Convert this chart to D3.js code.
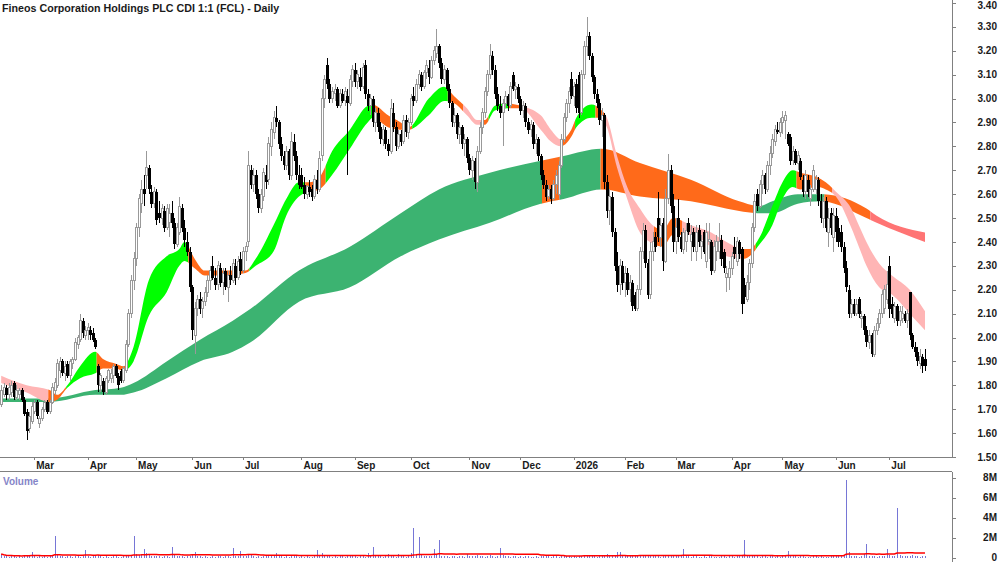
<!DOCTYPE html>
<html>
<head>
<meta charset="utf-8">
<script src="https://cdn.jsdelivr.net/npm/d3@7"></script>
<style>
  body { margin: 0; background: #fff; }
  svg { display: block; font-family: 'Liberation Sans', Arial, sans-serif; }
</style>
</head>
<body>
<svg id="chart" width="1000" height="562"></svg>
<script>
const title = 'Fineos Corporation Holdings PLC CDI 1:1 (FCL) - Daily';

// trading calendar (ASX)
const firstDay = '2025-02-12';
const lastDay = '2026-07-21';
const holidays = ['2025-04-18', '2025-04-21', '2025-04-25', '2025-06-09', '2025-12-25', '2025-12-26',
  '2026-01-01', '2026-01-26', '2026-04-03', '2026-04-06', '2026-06-08'];

// daily candles, cents: [open, high, low, close]
const candles = [
  // Feb 25
  [172,180,171,178],[176,181,175,179],[179,180,174,176],[176,181,174,179],[177,182,175,180],[181,182,174,175],[175,180,174,178],[176,179,174,178],[178,179,173,174],[174,175,167,168],[169,170,157,161],[162,169,160,167],[165,173,164,171],
  // Mar 25
  [169,174,168,173],[173,174,166,167],[164,167,162,166],[166,171,165,170],[170,174,169,173],[173,174,168,169],[169,174,168,173],[173,181,172,179],[178,183,176,181],[180,191,179,189],[186,192,183,190],[190,191,184,185],[185,190,182,188],[189,190,183,184],[184,191,182,190],[189,192,187,191],[191,200,190,198],[197,201,195,200],[199,210,198,207],[207,208,200,202],[201,205,199,203],
  // Apr 25
  [203,206,199,204],[203,205,199,201],[202,204,198,199],[199,200,195,196],[188,189,177,180],[180,185,177,184],[182,183,176,177],[177,184,176,183],[182,187,181,186],[183,187,181,185],[184,189,181,188],[188,189,183,184],[184,185,178,180],[186,187,181,182],[182,188,181,187],[186,199,185,197],[197,212,196,210],[210,226,208,224],[224,236,220,233],
  // May 25
  [233,248,230,246],[246,260,242,258],[256,266,252,262],[262,268,255,260],[268,278,262,271],[271,272,260,262],[261,264,254,256],[256,263,254,261],[261,262,247,249],[252,257,248,250],[250,256,247,254],[253,255,244,246],[246,256,245,254],[248,256,242,252],[252,257,246,248],[248,250,237,239],[239,248,238,246],[244,259,243,255],[254,256,244,246],[246,249,238,241],[240,244,234,236],[236,238,219,221],
  // Jun 25
  [221,222,199,203],[201,215,193,212],[212,218,209,216],[216,219,210,212],[212,217,208,215],[215,221,213,219],[219,226,217,224],[224,230,220,228],[230,234,224,225],[225,229,220,222],[222,232,220,230],[229,231,221,223],[223,229,218,227],[228,229,220,221],[221,228,215,226],[226,230,222,224],[224,233,223,231],[230,233,222,225],[225,234,224,232],[233,236,226,228],
  // Jul 25
  [228,238,227,236],[236,240,232,238],[240,278,238,272],[270,272,262,264],[264,271,261,268],[268,270,258,260],[260,262,252,254],[254,262,252,260],[259,271,257,269],[268,272,262,265],[266,284,264,281],[280,290,276,287],[286,295,283,292],[292,297,288,290],[290,291,279,281],[281,284,274,276],[276,278,270,272],[272,280,270,278],[278,279,266,268],[268,286,266,282],[282,285,274,276],[276,278,266,268],[268,272,262,264],
  // Aug 25
  [268,271,262,263],[264,267,258,260],[260,264,258,263],[263,266,259,261],[262,264,257,259],[259,268,258,266],[266,270,260,262],[262,278,261,275],[276,304,274,300],[300,310,296,308],[314,317,304,306],[306,308,298,300],[300,305,298,303],[302,306,299,304],[304,305,296,297],[297,304,296,302],[302,304,298,299],[299,305,297,303],[301,304,268,298],[298,310,297,308],[307,314,305,312],
  // Sep 25
  [312,315,305,307],[307,312,304,310],[309,313,303,305],[305,315,304,313],[314,316,300,302],[302,304,295,297],[297,302,293,300],[300,301,288,290],[290,296,286,294],[294,296,286,288],[288,290,281,283],[283,289,280,287],[287,288,279,281],[281,283,276,278],[278,300,277,296],[294,298,286,288],[288,290,278,280],[280,287,279,285],[285,287,280,282],[282,293,281,291],[291,293,284,286],[286,292,283,290],
  // Oct 25
  [290,302,289,300],[301,305,297,299],[299,308,298,306],[306,312,304,310],[310,311,303,305],[305,312,304,311],[311,316,308,314],[313,316,306,309],[309,318,308,316],[316,322,314,320],[319,329,317,322],[322,323,313,315],[315,317,306,308],[308,314,306,312],[312,313,303,304],[304,306,296,298],[298,299,288,290],[290,296,288,293],[293,294,283,285],[285,290,281,288],[288,289,279,281],[281,285,276,283],[283,284,273,275],
  // Nov 25
  [275,277,268,270],[270,276,266,274],[274,275,262,265],[265,280,261,278],[278,290,277,288],[288,296,285,294],[294,305,292,303],[303,312,301,310],[310,323,308,318],[318,320,310,312],[312,314,300,302],[302,305,295,297],[297,301,292,294],[294,300,280,298],[298,303,296,301],[301,302,295,297],[297,307,296,305],[310,311,303,304],[304,307,300,305],[305,306,298,300],
  // Dec 25
  [300,301,293,295],[295,299,292,297],[297,298,288,290],[290,292,285,287],[287,291,284,289],[289,290,279,281],[281,285,277,283],[283,284,274,276],[276,277,266,268],[268,270,262,264],[264,266,257,259],[259,264,258,262],[262,264,256,258],[258,266,257,264],[264,270,260,268],[260,274,258,272],[272,285,271,283],[283,294,282,292],[292,300,290,298],[298,305,294,303],[308,311,300,301],
  // Jan 26
  [301,307,297,305],[306,308,294,296],[310,311,292,294],[294,312,293,310],[310,324,308,322],[322,334,318,326],[326,328,316,318],[318,319,307,309],[309,310,300,302],[302,304,296,298],[298,300,289,291],[291,296,284,293],[293,294,262,265],[265,268,250,253],[253,262,247,259],[259,261,242,244],[244,246,228,230],[230,236,219,222],[222,233,218,230],[230,232,220,223],
  // Feb 26
  [223,230,217,227],[227,229,218,220],[220,226,215,223],[223,224,211,213],[218,219,211,212],[212,222,211,220],[220,238,218,236],[236,248,233,245],[245,247,229,231],[231,233,216,218],[218,240,216,236],[236,244,232,240],[242,244,236,238],[250,261,240,242],[242,250,238,247],[248,250,228,232],[232,262,231,258],[258,277,256,270],[270,272,252,255],[255,260,236,240],
  // Mar 26
  [240,250,235,246],[250,258,240,242],[242,244,236,237],[237,246,235,244],[240,248,236,245],[248,250,243,244],[240,247,232,243],[244,246,236,238],[236,247,232,244],[245,247,238,240],[238,243,233,240],[244,245,235,236],[232,248,229,244],[240,248,233,241],[240,241,226,228],[228,241,227,238],[236,243,232,240],[236,248,233,240],[241,243,230,233],[236,237,227,229],[225,230,219,227],[225,232,220,229],
  // Apr 26
  [229,236,226,234],[238,242,233,235],[232,242,230,240],[240,241,233,235],[237,238,210,214],[222,225,214,217],[216,226,215,223],[223,233,220,231],[231,248,229,246],[246,260,244,257],[260,262,253,255],[255,266,254,264],[264,270,260,268],[268,269,260,262],[262,274,261,272],[272,280,268,277],[277,285,275,283],[282,289,280,287],[287,290,285,286],[286,292,284,290],
  // May 26
  [290,295,285,292],[291,295,283,293],[285,286,280,281],[284,285,272,274],[274,280,272,278],[278,279,272,273],[273,278,270,276],[274,275,266,267],[266,268,259,261],[261,270,258,268],[266,268,259,261],[258,264,255,262],[262,272,261,270],[262,268,260,266],[266,267,255,257],[257,260,248,250],[250,259,246,257],[257,259,244,246],[244,254,238,250],[252,254,243,246],[242,254,236,251],
  // Jun 26
  [251,254,240,244],[246,250,238,240],[244,247,236,238],[238,240,227,229],[229,232,219,221],[220,222,208,210],[210,216,208,214],[214,216,209,210],[210,216,209,214],[216,217,208,210],[208,211,204,209],[209,210,201,203],[203,205,196,198],[198,203,195,201],[201,202,192,193],[193,205,192,203],[203,208,201,206],[206,212,204,210],[210,220,208,218],[212,222,210,220],[216,228,214,222],
  // Jul 26
  [230,234,208,212],[214,217,208,210],[208,215,206,213],[213,214,205,207],[207,213,205,211],[208,213,206,210],[210,211,206,207],[207,212,204,210],[219,219,199,201],[201,202,195,196],[196,198,192,194],[194,196,188,190],[189,195,187,192],[192,193,185,188],[191,195,186,188]
];

// daily volume, millions
const volumes = [
  0.35,0.2,0.15,0.1,0.2,0.12,0.08,0.15,0.1,0.2,0.25,0.15,0.6,
  0.15,0.1,0.12,0.08,0.2,0.1,0.15,0.12,2.2,0.3,0.2,0.15,0.1,0.12,0.2,0.1,0.15,0.12,0.1,0.2,0.8,
  0.12,0.1,0.15,0.2,0.3,0.15,0.1,0.12,0.08,0.1,0.15,0.12,0.1,0.08,0.12,0.2,0.25,0.3,2.2,
  0.4,0.3,0.25,0.9,0.5,0.3,0.2,0.15,0.2,0.12,0.1,0.15,0.12,0.1,1.1,0.3,0.15,0.2,0.12,0.1,0.15,0.2,
  0.3,0.6,0.2,0.15,0.1,0.12,0.1,0.08,0.15,0.1,0.12,0.2,0.1,0.15,0.12,0.1,1.0,0.2,0.15,0.7,
  0.15,0.2,0.35,0.25,0.15,0.1,0.12,0.1,0.15,0.12,0.2,0.25,0.2,0.5,0.2,0.15,0.1,0.12,0.1,0.15,0.2,0.12,0.1,
  0.12,0.1,0.15,0.08,0.1,0.12,0.8,0.2,0.5,0.3,0.2,0.15,0.1,0.12,0.1,0.15,0.12,0.1,0.2,0.15,0.12,
  0.15,0.1,0.12,0.15,0.1,0.5,0.2,1.1,0.2,0.15,0.12,0.1,0.15,0.4,0.15,0.12,0.1,0.4,0.12,0.15,0.1,0.2,
  0.5,3.0,0.3,2.1,0.3,0.2,0.15,0.2,0.12,0.9,0.3,1.8,0.2,0.15,0.12,0.1,0.15,0.12,0.1,0.15,0.12,0.1,0.4,
  0.15,0.12,0.2,0.25,0.15,0.12,0.1,0.15,0.3,0.12,0.1,0.15,1.0,0.3,0.15,0.12,0.1,0.15,0.12,0.1,
  0.12,0.1,0.15,0.12,0.1,0.08,0.12,0.1,0.15,0.12,0.2,0.15,0.1,0.12,0.15,0.1,0.12,0.15,0.2,0.12,0.1,
  0.12,0.1,0.15,0.2,0.25,0.3,0.2,0.15,0.12,0.1,0.15,0.2,0.25,0.4,0.2,0.25,0.3,0.6,0.6,0.3,
  0.25,0.2,0.3,0.25,0.2,0.15,0.2,0.25,0.3,0.2,0.15,0.2,0.12,0.15,0.1,0.12,0.2,0.25,0.15,0.12,
  0.2,0.15,0.12,0.9,0.15,0.12,0.1,0.15,0.12,0.1,0.08,0.12,0.1,0.15,0.12,0.1,0.08,0.1,0.12,0.15,0.1,0.12,
  0.12,0.1,0.15,0.12,0.3,1.8,0.25,0.15,0.12,0.2,0.15,0.1,0.12,0.15,0.1,0.12,0.15,0.1,0.12,0.1,
  0.15,0.12,0.7,0.2,0.15,0.12,0.1,0.15,0.12,0.1,0.08,0.1,0.12,0.15,0.1,0.12,0.1,0.08,0.1,0.12,0.15,
  0.15,0.12,0.2,0.25,7.8,0.6,0.2,0.15,0.12,0.1,0.15,0.4,1.4,0.2,0.15,0.12,0.1,0.15,0.12,0.2,0.9,
  0.3,0.2,0.15,5.0,0.3,0.2,0.15,0.12,0.2,0.25,0.15,0.12,0.1,0.15,0.12
];

const priceTicks = [1.5, 1.6, 1.7, 1.8, 1.9, 2.0, 2.1, 2.2, 2.3, 2.4, 2.5, 2.6, 2.7, 2.8, 2.9, 3.0, 3.1, 3.2, 3.3, 3.4];
const volumeTicks = [0, 2, 4, 6, 8];

// short-term ribbon: [date, upper, lower]
const shortRibbon = [
  ['2025-02-12',1.84,1.81],['2025-02-26',1.80,1.77],['2025-03-11',1.78,1.73],['2025-03-14',1.76,1.74],
  ['2025-03-20',1.80,1.79],['2025-03-27',1.88,1.83],['2025-04-04',1.94,1.85],['2025-04-09',1.91,1.87],
  ['2025-04-16',1.89,1.87],['2025-04-23',1.88,1.86],['2025-04-30',1.96,1.90],['2025-05-08',2.24,2.09],
  ['2025-05-19',2.34,2.19],['2025-05-26',2.37,2.30],['2025-05-28',2.40,2.32],['2025-06-03',2.33,2.29],
  ['2025-06-10',2.28,2.26],['2025-06-20',2.28,2.26],['2025-07-02',2.28,2.27],['2025-07-08',2.33,2.30],
  ['2025-07-17',2.47,2.36],['2025-07-24',2.58,2.51],['2025-07-31',2.65,2.59],['2025-08-06',2.65,2.61],
  ['2025-08-12',2.67,2.62],['2025-08-19',2.78,2.68],['2025-08-28',2.87,2.79],['2025-09-08',2.97,2.90],
  ['2025-09-10',2.975,2.92],['2025-09-18',2.93,2.88],['2025-09-25',2.90,2.87],['2025-09-30',2.88,2.87],
  ['2025-10-10',3.00,2.93],['2025-10-20',3.05,2.99],['2025-10-24',3.01,2.98],['2025-10-31',2.96,2.93],
  ['2025-11-06',2.91,2.89],['2025-11-11',2.91,2.89],['2025-11-17',2.97,2.95],['2025-11-24',2.98,2.96],
  ['2025-12-01',2.97,2.96],['2025-12-11',2.93,2.87],['2025-12-17',2.87,2.82],['2025-12-23',2.83,2.80],
  ['2025-12-31',2.87,2.84],['2026-01-05',2.92,2.88],['2026-01-13',2.975,2.92],['2026-01-16',2.96,2.92],
  ['2026-01-21',2.92,2.88],['2026-01-28',2.76,2.71],['2026-02-03',2.63,2.58],['2026-02-10',2.54,2.44],
  ['2026-02-16',2.48,2.40],['2026-02-23',2.45,2.38],['2026-02-27',2.50,2.43],['2026-03-10',2.47,2.43],
  ['2026-03-20',2.44,2.38],['2026-03-30',2.40,2.34],['2026-04-10',2.37,2.33],['2026-04-14',2.37,2.34],
  ['2026-04-20',2.42,2.39],['2026-04-27',2.55,2.47],['2026-05-01',2.65,2.58],['2026-05-07',2.70,2.63],
  ['2026-05-12',2.69,2.62],['2026-05-21',2.67,2.63],['2026-05-26',2.65,2.62],['2026-06-01',2.61,2.59],
  ['2026-06-10',2.54,2.46],['2026-06-15',2.47,2.38],['2026-06-18',2.40,2.30],['2026-06-25',2.31,2.21],
  ['2026-07-02',2.26,2.18],['2026-07-13',2.20,2.10],['2026-07-21',2.11,2.03]
];
// colour of the short ribbon from each date on
const shortColours = [
  ['2025-02-12','pink'],['2025-03-11','orange'],['2025-03-20','green'],['2025-04-07','orange'],
  ['2025-04-28','green'],['2025-05-30','orange'],['2025-07-04','green'],['2025-08-05','orange'],
  ['2025-08-15','green'],['2025-09-11','orange'],['2025-10-02','green'],['2025-10-22','orange'],
  ['2025-10-30','pink'],['2025-11-10','orange'],['2025-11-13','green'],['2025-11-25','orange'],
  ['2025-12-01','pink'],['2025-12-24','orange'],['2026-01-05','green'],['2026-01-15','orange'],
  ['2026-01-21','pink'],['2026-02-18','orange'],['2026-03-05','pink'],['2026-04-10','orange'],
  ['2026-04-17','green'],['2026-05-11','orange'],['2026-05-29','pink']
];

// long-term ribbon: [date, upper, lower]
const longRibbon = [
  ['2025-02-12',1.745,1.73],['2025-03-11',1.745,1.73],['2025-04-04',1.78,1.76],['2025-04-22',1.79,1.76],
  ['2025-04-30',1.81,1.77],['2025-05-19',1.90,1.83],['2025-06-05',1.99,1.90],['2025-06-25',2.07,1.94],
  ['2025-07-04',2.12,1.98],['2025-07-31',2.28,2.15],['2025-08-28',2.38,2.21],['2025-09-25',2.52,2.34],
  ['2025-10-16',2.62,2.41],['2025-11-13',2.69,2.48],['2025-12-11',2.74,2.56],['2025-12-24',2.76,2.58],
  ['2026-01-19',2.79,2.62],['2026-02-10',2.73,2.59],['2026-03-10',2.66,2.57],['2026-04-08',2.57,2.53],
  ['2026-04-20',2.55,2.52],['2026-04-27',2.57,2.52],['2026-05-11',2.60,2.56],['2026-05-22',2.60,2.57],
  ['2026-06-18',2.54,2.50],['2026-06-24',2.51,2.48],['2026-07-21',2.44,2.40]
];
const longColours = [
  ['2025-02-12','dark'],['2025-12-12','orange'],['2025-12-23','dark'],['2026-01-19','orange'],
  ['2026-04-17','dark'],['2026-05-26','orange'],['2026-06-22','red']
];

const palette = { green: '#00ff00', orange: '#ff6a1a', pink: '#ffb5b5', dark: '#3cb371', red: '#ff7474' };

const fmt = d3.utcFormat('%Y-%m-%d');
const days = d3.utcDay.range(new Date(firstDay), d3.utcDay.offset(new Date(lastDay), 1))
  .filter(d => d.getUTCDay() > 0 && d.getUTCDay() < 6 && !holidays.includes(fmt(d)));
if (days.length !== candles.length) console.error('calendar mismatch', days.length, candles.length);
const dayIndex = new Map(days.map((d, i) => [fmt(d), i]));

const svg = d3.select('#chart');

const axisX = 952;
const x = d3.scaleLinear().domain([0, candles.length - 1]).range([1.2, 925]);
const step = x(1) - x(0);
const y = d3.scaleLinear().domain([1.5, 3.4]).range([457, 3]);
const yVol = d3.scaleLinear().domain([0, 8]).range([557.5, 477.5]);

svg.append('text')
  .attr('x', 2)
  .attr('y', 11.5)
  .style('font-size', '10.7px')
  .style('font-weight', 'bold')
  .attr('fill', '#1a1a1a')
  .text(title);

// ======================= ribbons ============================== //
const defs = svg.append('defs');

const drawRibbon = (name, samples, colours) => {
  const pts = samples.map(([date, hi, lo]) => ({ i: dayIndex.get(date), hi, lo }));
  const area = d3.area()
    .x(d => x(d.i))
    .y0(d => y(d.lo))
    .y1(d => y(d.hi))
    .curve(d3.curveMonotoneX);
  const g = svg.append('g');
  colours.forEach(([date, key], k) => {
    const from = k === 0 ? 0 : x(dayIndex.get(date)) - step / 2;
    const to = k === colours.length - 1 ? axisX : x(dayIndex.get(colours[k + 1][0])) - step / 2;
    const id = `${name}-clip-${k}`;
    defs.append('clipPath').attr('id', id)
      .append('rect')
        .attr('x', from)
        .attr('y', 0)
        .attr('width', to - from)
        .attr('height', 457);
    g.append('path')
      .attr('d', area(pts))
      .attr('fill', palette[key])
      .attr('clip-path', `url(#${id})`);
  });
};

drawRibbon('long', longRibbon, longColours);
drawRibbon('short', shortRibbon, shortColours);

// ======================= candles ============================== //
const isUp = d => d[3] >= d[0];

const bars = svg.append('g')
  .attr('shape-rendering', 'crispEdges')
  .selectAll('g')
  .data(candles)
  .enter()
  .append('g');

bars.append('line')
  .attr('x1', (d, i) => Math.round(x(i)) + 0.5)
  .attr('x2', (d, i) => Math.round(x(i)) + 0.5)
  .attr('y1', d => y(d[1] / 100))
  .attr('y2', d => y(d[2] / 100))
  .attr('stroke', d => (isUp(d) ? '#999' : '#000'));

bars.append('rect')
  .attr('x', (d, i) => (isUp(d) ? Math.round(x(i)) - 0.5 : Math.round(x(i)) - 1))
  .attr('y', d => y(Math.max(d[0], d[3]) / 100))
  .attr('width', d => (isUp(d) ? 2 : 3))
  .attr('height', d => Math.max(1, y(Math.min(d[0], d[3]) / 100) - y(Math.max(d[0], d[3]) / 100)))
  .attr('fill', d => (isUp(d) ? '#fff' : '#000'))
  .attr('stroke', d => (isUp(d) ? '#999' : 'none'));

// ======================= frame and axes ============================== //
const frame = svg.append('g').attr('stroke', '#808080').attr('shape-rendering', 'crispEdges');
frame.append('line').attr('x1', 0).attr('x2', axisX).attr('y1', 457.5).attr('y2', 457.5);
frame.append('line').attr('x1', 0).attr('x2', axisX).attr('y1', 471.5).attr('y2', 471.5);
frame.append('line').attr('x1', axisX + 0.5).attr('x2', axisX + 0.5).attr('y1', 0).attr('y2', 457);
frame.append('line').attr('x1', axisX + 0.5).attr('x2', axisX + 0.5).attr('y1', 472).attr('y2', 562);

const labelStyle = sel => sel
  .style('font-size', '10px')
  .style('font-weight', 'bold')
  .attr('fill', '#1a1a1a');

// month ticks
const monthStarts = days.map((d, i) => i).filter(i => i > 0 && days[i].getUTCMonth() !== days[i - 1].getUTCMonth());
frame.selectAll('.mtick')
  .data(monthStarts)
  .enter()
  .append('line')
    .attr('x1', i => Math.round(x(i)) + 0.5)
    .attr('x2', i => Math.round(x(i)) + 0.5)
    .attr('y1', 457)
    .attr('y2', 460);

svg.selectAll('.mlabel')
  .data(monthStarts)
  .enter()
  .append('text')
    .attr('x', i => x(i) + 2)
    .attr('y', 468.5)
    .call(labelStyle)
    .text(i => (days[i].getUTCMonth() === 0 ? d3.utcFormat('%Y')(days[i]) : d3.utcFormat('%b')(days[i])));

// price axis
frame.selectAll('.ptick')
  .data(priceTicks)
  .enter()
  .append('line')
    .attr('x1', axisX)
    .attr('x2', axisX + 4)
    .attr('y1', d => Math.round(y(d)) + 0.5)
    .attr('y2', d => Math.round(y(d)) + 0.5);

svg.selectAll('.plabel')
  .data(priceTicks)
  .enter()
  .append('text')
    .attr('x', 997)
    .attr('y', d => Math.max(5, y(d)))
    .attr('dy', '0.36em')
    .attr('text-anchor', 'end')
    .call(labelStyle)
    .text(d => d.toFixed(2));

// ======================= volume panel ============================== //
svg.append('text')
  .attr('x', 3)
  .attr('y', 485)
  .style('font-size', '10px')
  .style('font-weight', 'bold')
  .attr('fill', '#8585c8')
  .text('Volume');

svg.append('g')
  .attr('shape-rendering', 'crispEdges')
  .selectAll('line')
  .data(volumes)
  .enter()
  .append('line')
    .attr('x1', (d, i) => Math.round(x(i)) + 0.5)
    .attr('x2', (d, i) => Math.round(x(i)) + 0.5)
    .attr('y1', yVol(0))
    .attr('y2', d => Math.min(yVol(0) - 1, yVol(d)))
    .attr('stroke', '#7676d6');

// volume moving average
const volAvg = volumes.map((v, i) => d3.mean(volumes.slice(Math.max(0, i - 49), i + 1)));
svg.append('path')
  .datum(volAvg)
  .attr('d', d3.line().x((d, i) => x(i)).y(d => yVol(d)))
  .attr('fill', 'none')
  .attr('stroke', '#ff0000')
  .attr('stroke-width', 1.5);

frame.selectAll('.vtick')
  .data(volumeTicks)
  .enter()
  .append('line')
    .attr('x1', axisX)
    .attr('x2', axisX + 4)
    .attr('y1', d => Math.round(yVol(d)) + 0.5)
    .attr('y2', d => Math.round(yVol(d)) + 0.5);

svg.selectAll('.vlabel')
  .data(volumeTicks)
  .enter()
  .append('text')
    .attr('x', 997)
    .attr('y', d => yVol(d))
    .attr('dy', '0.36em')
    .attr('text-anchor', 'end')
    .call(labelStyle)
    .text(d => (d === 0 ? '0' : `${d}M`));
</script>
</body>
</html>
